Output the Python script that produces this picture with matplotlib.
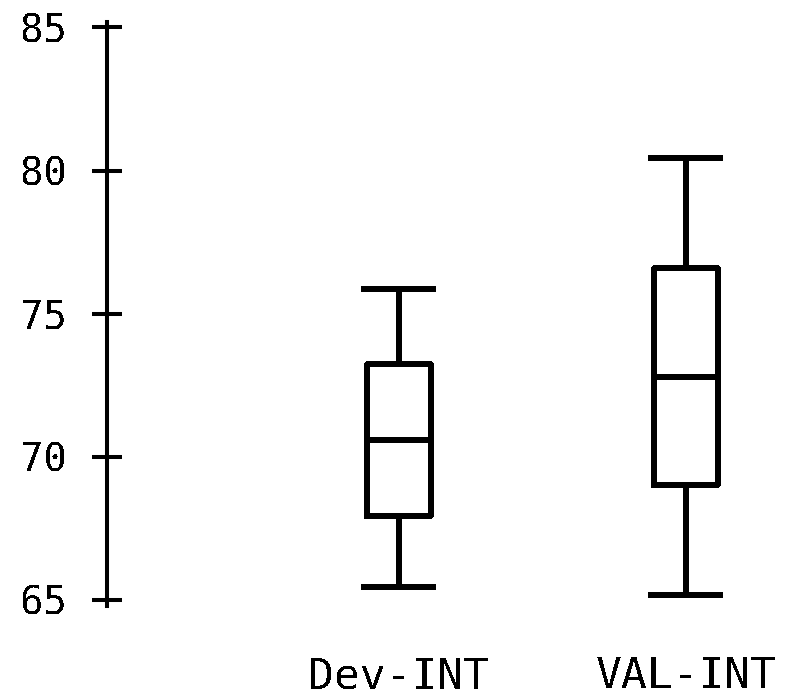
import matplotlib
matplotlib.use('Agg')
import matplotlib.pyplot as plt

plt.rcParams['font.family'] = ['DejaVu Sans Mono', 'DejaVu Sans']
plt.rcParams['text.antialiased'] = False
plt.rcParams['lines.antialiased'] = False

# Данные боксплотов
labels = ['Dev-INT', 'VAL-INT']
whislo = [65.47, 65.17]
q1 = [67.95, 69.01]
med = [70.59, 72.79]
q3 = [73.23, 76.60]
whishi = [75.87, 80.44]
yticks = [65, 70, 75, 80, 85]

stats = []
for i in range(len(labels)):
    stats.append({'label': labels[i], 'whislo': whislo[i], 'q1': q1[i],
                  'med': med[i], 'q3': q3[i], 'whishi': whishi[i], 'fliers': []})

lw = 2.9
fig = plt.figure(figsize=(8.03, 7.0), dpi=100)
ax = fig.add_axes([0.1329, 0.1347, 0.9900 - 0.1329, 0.9691 - 0.1347])

line_style = dict(color='black', linewidth=lw)
ax.bxp(stats, positions=[1, 2], widths=0.225, capwidths=0.24, showfliers=False,
       boxprops=line_style, whiskerprops=line_style, capprops=line_style,
       medianprops=line_style)

ax.set_xlim(-0.018, 2.38)
ax.set_ylim(64.8, 85.2)
ax.set_yticks(yticks)
ax.set_yticklabels([str(t) for t in yticks])

for side in ['top', 'right', 'bottom']:
    ax.spines[side].set_visible(False)
ax.spines['left'].set_linewidth(lw)

ax.tick_params(axis='y', direction='inout', length=21.6, width=lw,
               pad=17.8, labelsize=28)
ax.tick_params(axis='x', length=0, pad=35.5, labelsize=31)

fig.savefig('out.png', dpi=100, facecolor='white')
